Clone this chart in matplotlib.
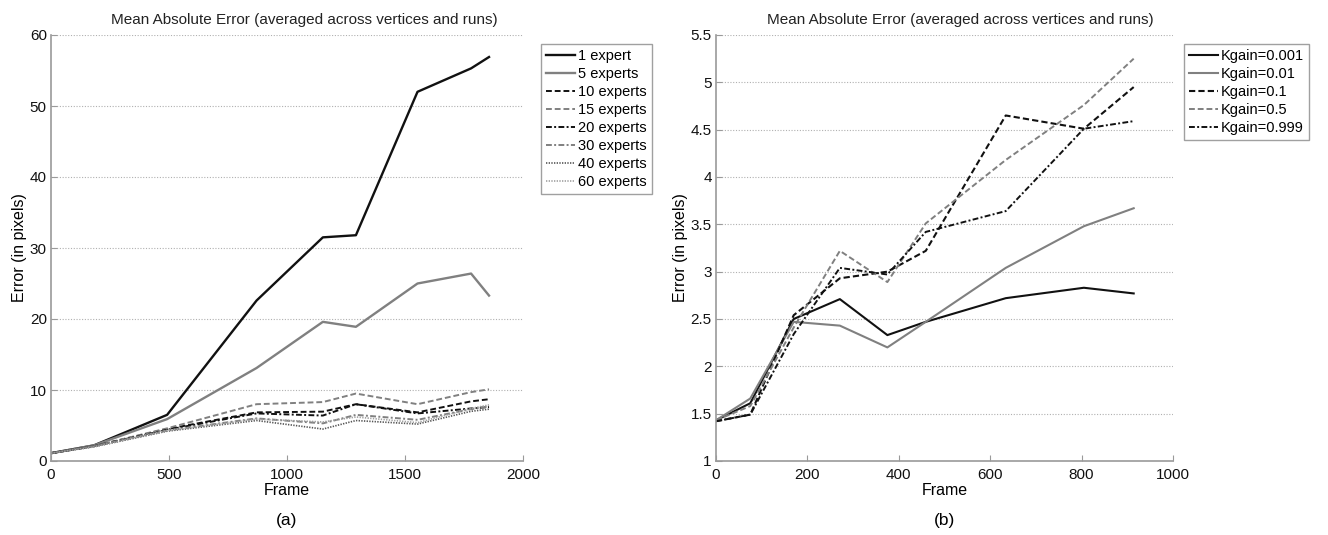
import matplotlib
matplotlib.use("Agg")
import matplotlib.pyplot as plt

plt.rcParams['font.family'] = ['Liberation Sans', 'DejaVu Sans']

# ---- Panel (a) data ----
frames_a = [0, 182, 492, 871, 1152, 1292, 1553, 1780, 1856]
expert_labels = ['1 expert', '5 experts', '10 experts', '15 experts',
                 '20 experts', '30 experts', '40 experts', '60 experts']
err_1 = [1.1, 2.2, 6.5, 22.6, 31.5, 31.8, 52.0, 55.3, 56.9]
err_5 = [1.1, 2.2, 5.9, 13.1, 19.6, 18.9, 25.0, 26.4, 23.3]
err_10 = [1.1, 2.1, 4.5, 6.85, 6.95, 8.0, 6.85, 8.4, 8.7]
err_15 = [1.1, 2.1, 4.6, 8.0, 8.3, 9.5, 8.0, 9.7, 10.1]
err_20 = [1.1, 2.1, 4.4, 6.7, 6.4, 8.0, 6.7, 7.4, 7.6]
err_30 = [1.1, 2.1, 4.3, 6.0, 5.3, 6.5, 5.8, 7.3, 7.7]
err_40 = [1.1, 2.0, 4.2, 5.7, 4.5, 5.7, 5.2, 7.0, 7.3]
err_60 = [1.1, 2.0, 4.3, 5.9, 5.5, 6.2, 5.4, 7.4, 7.9]
series_a = [err_1, err_5, err_10, err_15, err_20, err_30, err_40, err_60]

# ---- Panel (b) data ----
frames_b = [0, 75, 170, 271, 375, 459, 634, 805, 914]
kgain_labels = ['Kgain=0.001', 'Kgain=0.01', 'Kgain=0.1', 'Kgain=0.5', 'Kgain=0.999']
k_0001 = [1.43, 1.61, 2.50, 2.71, 2.33, 2.47, 2.72, 2.83, 2.77]
k_001 = [1.43, 1.66, 2.47, 2.43, 2.20, 2.47, 3.04, 3.48, 3.67]
k_01 = [1.42, 1.49, 2.54, 2.93, 3.00, 3.22, 4.65, 4.51, 4.95]
k_05 = [1.43, 1.58, 2.41, 3.22, 2.89, 3.51, 4.18, 4.76, 5.25]
k_0999 = [1.42, 1.49, 2.34, 3.04, 2.97, 3.42, 3.64, 4.51, 4.59]
series_b = [k_0001, k_001, k_01, k_05, k_0999]

title = 'Mean Absolute Error (averaged across vertices and runs)'

BLACK = '#111111'
GRAY = '#808080'
DGRAY = '#555555'
LGRAY = '#a0a0a0'

styles_a = [
    dict(color=BLACK, ls='-', lw=1.7),
    dict(color=GRAY, ls='-', lw=1.7),
    dict(color=BLACK, ls=(0, (3, 1.5)), lw=1.4),
    dict(color=GRAY, ls=(0, (3, 1.5)), lw=1.4),
    dict(color=BLACK, ls=(0, (3, 1.2, 1, 1.2)), lw=1.4),
    dict(color=GRAY, ls=(0, (3, 1.2, 1, 1.2)), lw=1.4),
    dict(color=DGRAY, ls=(0, (0.8, 0.8)), lw=1.2),
    dict(color=LGRAY, ls=(0, (0.8, 0.8)), lw=1.2),
]
styles_b = [
    dict(color=BLACK, ls='-', lw=1.5),
    dict(color=GRAY, ls='-', lw=1.5),
    dict(color=BLACK, ls=(0, (3, 1.5)), lw=1.5),
    dict(color=GRAY, ls=(0, (3, 1.5)), lw=1.4),
    dict(color=BLACK, ls=(0, (3, 1.2, 1, 1.2)), lw=1.4),
]

fig = plt.figure(figsize=(13.28, 5.35), dpi=100)
ax1 = fig.add_axes([51/1328, 1-461/535, (523-51)/1328, (461-35)/535])
ax2 = fig.add_axes([716/1328, 1-461/535, (1173-716)/1328, (461-35)/535])


def style_axes(ax, title_x):
    for s in ['top', 'right']:
        ax.spines[s].set_visible(False)
    for s in ['left', 'bottom']:
        ax.spines[s].set_color('#9a9a9a')
        ax.spines[s].set_linewidth(1.2)
    ax.tick_params(direction='in', length=4, color='#9a9a9a', labelsize=11,
                   labelcolor='#111111')
    ax.tick_params(axis='x', pad=5)
    ax.tick_params(axis='y', pad=3)
    ax.yaxis.grid(True, ls=(0, (1, 1.5)), color='#b0b0b0', lw=0.8)
    ax.set_axisbelow(True)
    ax.set_title(title, fontsize=11, pad=8, color='#222222', x=title_x)
    ax.set_xlabel('Frame', fontsize=11.5, labelpad=1)
    ax.set_ylabel('Error (in pixels)', fontsize=11.5, labelpad=2)


for y, lab, st in zip(series_a, expert_labels, styles_a):
    ax1.plot(frames_a, y, label=lab, **st)
ax1.set_xlim(0, 2000)
ax1.set_ylim(0, 60)
ax1.set_xticks([0, 500, 1000, 1500, 2000])
ax1.set_yticks([0, 10, 20, 30, 40, 50, 60])
style_axes(ax1, 0.536)
leg1 = ax1.legend(loc='upper left', bbox_to_anchor=(1.038, 0.98), fontsize=10.5,
                  frameon=True, fancybox=False, edgecolor='#888888',
                  handlelength=2.0, handletextpad=0.2, borderpad=0.35,
                  labelspacing=0.28, borderaxespad=0)
leg1.get_frame().set_linewidth(1.0)

for y, lab, st in zip(series_b, kgain_labels, styles_b):
    ax2.plot(frames_b, y, label=lab, **st)
ax2.set_xlim(0, 1000)
ax2.set_ylim(1, 5.5)
ax2.set_xticks([0, 200, 400, 600, 800, 1000])
ax2.set_yticks([1, 1.5, 2, 2.5, 3, 3.5, 4, 4.5, 5, 5.5])
ax2.set_yticklabels(['1', '1.5', '2', '2.5', '3', '3.5', '4', '4.5', '5', '5.5'])
style_axes(ax2, 0.535)
leg2 = ax2.legend(loc='upper left', bbox_to_anchor=(1.024, 0.98), fontsize=10.5,
                  frameon=True, fancybox=False, edgecolor='#888888',
                  handlelength=2.0, handletextpad=0.2, borderpad=0.35,
                  labelspacing=0.28, borderaxespad=0)
leg2.get_frame().set_linewidth(1.0)

fig.text((51+523)/2/1328, 1-521/535, '(a)', ha='center', va='center', fontsize=12.5)
fig.text((716+1173)/2/1328, 1-521/535, '(b)', ha='center', va='center', fontsize=12.5)

fig.savefig('out.png', dpi=100)
